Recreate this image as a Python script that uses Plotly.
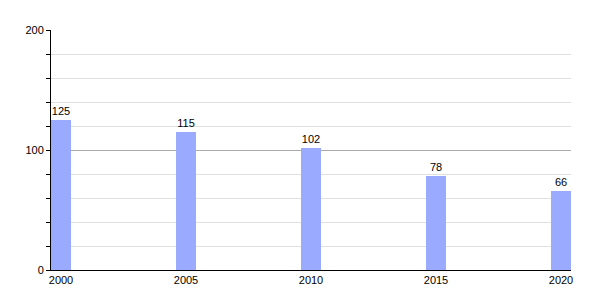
import plotly.graph_objects as go

years = [2000, 2005, 2010, 2015, 2020]
values = [125, 115, 102, 78, 66]
y_ticks = [0, 100, 200]

fig = go.Figure()
fig.add_trace(go.Bar(
    x=years, y=values, width=0.8,
    marker=dict(color="#99aaff", line=dict(width=0)),
    text=[str(v) for v in values], textposition="outside",
    textfont=dict(family="Liberation Sans, Arial, sans-serif", size=11, color="#000"),
    cliponaxis=False,
))
fig.update_layout(
    width=600, height=300,
    margin=dict(l=51, r=29, t=30, b=30),
    paper_bgcolor="white", plot_bgcolor="white",
    font=dict(family="Liberation Sans, Arial, sans-serif", size=11, color="#000"),
    showlegend=False,
    bargap=0,
)
fig.update_xaxes(
    range=[1999.6, 2020.4], tickvals=years, ticktext=[str(y) for y in years],
    showgrid=False, showline=True, linecolor="#000", linewidth=1,
    ticks="", ticklen=0, zeroline=False, fixedrange=True,
)
fig.update_yaxes(
    range=[0, 200], tickvals=y_ticks, ticktext=[str(t) for t in y_ticks],
    showgrid=True, gridcolor="#aaaaaa", gridwidth=1,
    showline=True, linecolor="#000", linewidth=1,
    ticks="outside", ticklen=4, tickcolor="#000",
    minor=dict(dtick=20, showgrid=True, gridcolor="#e0e0e0", ticks="outside", ticklen=4, tickcolor="#000"),
    zeroline=False, fixedrange=True,
)
fig.write_html("out.html")
